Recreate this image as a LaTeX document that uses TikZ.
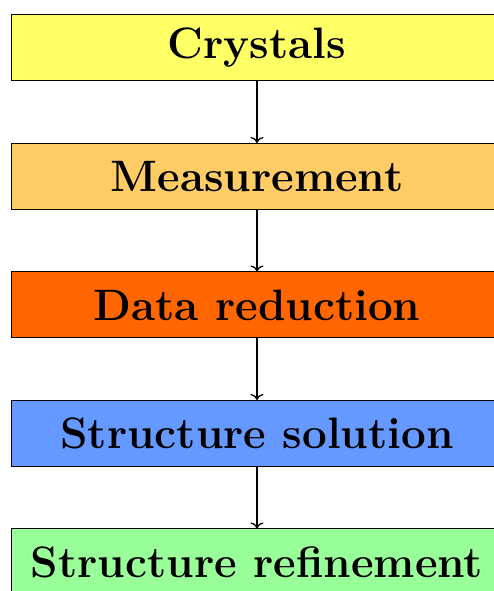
\documentclass[tikz,border=0pt]{standalone}
\usetikzlibrary{arrows.meta}
\definecolor{cA}{HTML}{FFFF66}
\definecolor{cB}{HTML}{FFCC66}
\definecolor{cC}{HTML}{FF6600}
\definecolor{cD}{HTML}{6699FF}
\definecolor{cE}{HTML}{99FF99}
\begin{document}
\begin{tikzpicture}[x=1pt,y=1pt,
  stagebox/.style={draw=black,line width=1pt,minimum width=492pt,minimum height=66pt,inner sep=0pt,
    font=\fontsize{44}{48}\selectfont\bfseries},
  flow/.style={-{To[length=6pt,width=13pt]},line width=1.3pt}]
\useasboundingbox (0,0) rectangle (494,591);
\node[stagebox,fill=cA] (n1) at (257,543) {Crystals};
\node[stagebox,fill=cB] (n2) at (257,414.5) {Measurement};
\node[stagebox,fill=cC] (n3) at (257,286) {Data reduction};
\node[stagebox,fill=cD] (n4) at (257,157.5) {Structure solution};
\node[stagebox,fill=cE] (n5) at (257,29) {Structure refinement};
\draw[flow] (n1) -- (n2);
\draw[flow] (n2) -- (n3);
\draw[flow] (n3) -- (n4);
\draw[flow] (n4) -- (n5);
\end{tikzpicture}
\end{document}
